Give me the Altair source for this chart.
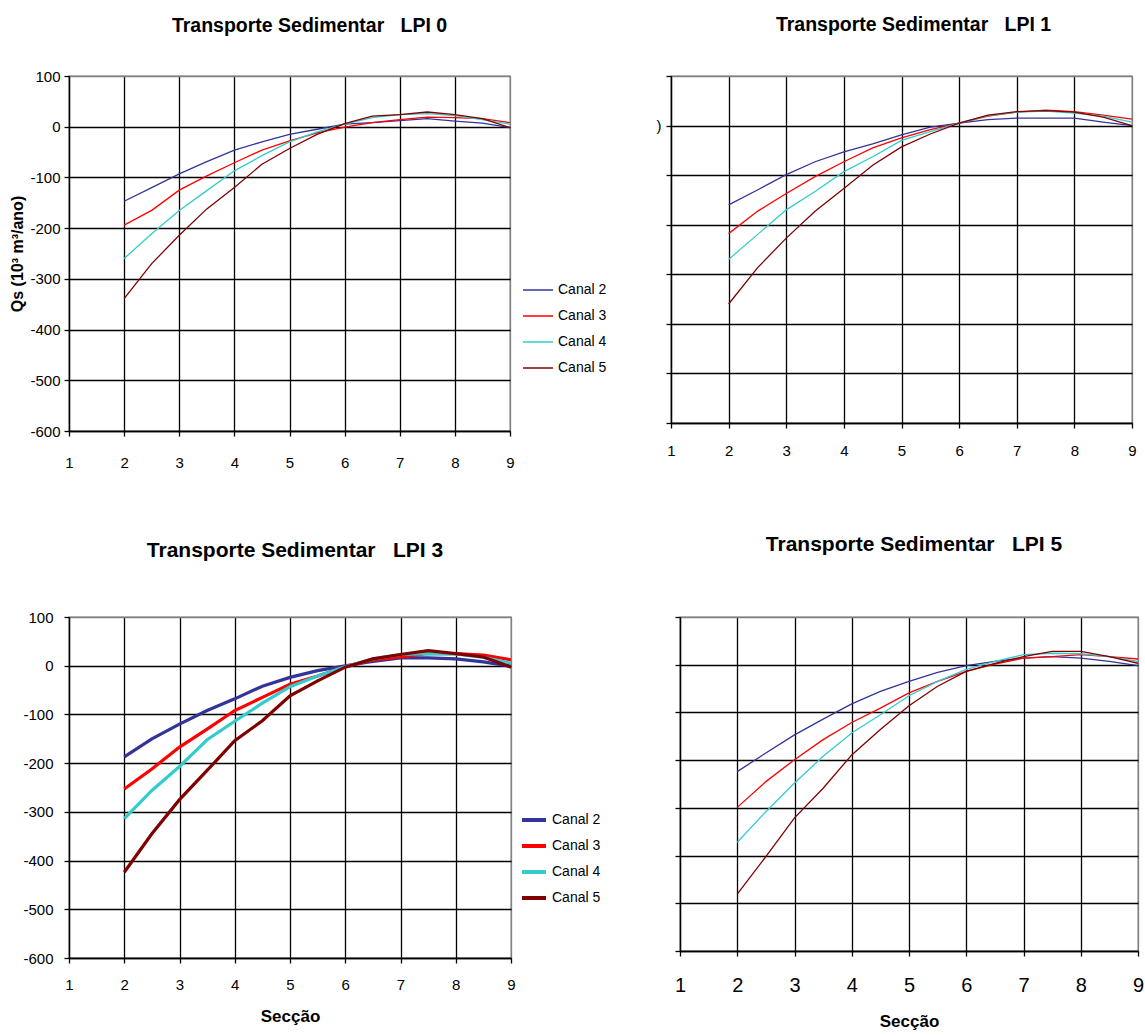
import altair as alt
import pandas as pd

FONT = "Liberation Sans, Arial, sans-serif"
SP3 = "\u00a0\u00a0\u00a0"

SECCAO = [2, 2.5, 3, 3.5, 4, 4.5, 5, 5.5, 6, 6.5, 7, 7.5, 8, 8.5, 9]
CANAIS = ["Canal 2", "Canal 3", "Canal 4", "Canal 5"]
CORES = ["#333399", "#FF0000", "#33CCCC", "#800000"]
X_TICKS = [1, 2, 3, 4, 5, 6, 7, 8, 9]
Y_TICKS = [100, 0, -100, -200, -300, -400, -500, -600]

LPI0_C2 = [-147, -120, -93, -69, -46, -30, -15, -5, 5, 8, 12, 16, 11, 7, -2]
LPI0_C3 = [-194, -165, -125, -97, -71, -46, -28, -12, -1, 8, 14, 19, 18, 16, 8]
LPI0_C4 = [-260, -211, -165, -126, -87, -57, -30, -10, 5, 18, 24, 26, 22, 14, 5]
LPI0_C5 = [-339, -270, -214, -162, -120, -74, -43, -15, 6, 21, 24, 29, 24, 16, -2]

LPI1_C2 = [-160, -130, -99, -73, -53, -37, -19, -3, 5, 12, 15, 15, 15, 7, 0]
LPI1_C3 = [-218, -173, -137, -103, -73, -45, -25, -8, 5, 19, 27, 31, 28, 21, 13]
LPI1_C4 = [-270, -220, -170, -133, -93, -63, -30, -12, 5, 20, 27, 29, 25, 19, 7]
LPI1_C5 = [-360, -287, -227, -173, -127, -80, -43, -17, 5, 21, 28, 30, 27, 17, 0]

LPI3_C2 = [-187, -150, -120, -92, -68, -42, -24, -10, 0, 9, 16, 16, 14, 8, -1]
LPI3_C3 = [-253, -212, -167, -130, -92, -65, -38, -21, -2, 12, 18, 25, 25, 22, 12]
LPI3_C4 = [-314, -256, -207, -152, -114, -77, -43, -21, -2, 14, 23, 25, 24, 17, 5]
LPI3_C5 = [-424, -345, -275, -215, -154, -113, -62, -31, -3, 14, 23, 31, 25, 18, -3]

LPI5_C2 = [-224, -185, -147, -114, -82, -56, -35, -16, -2, 7, 14, 17, 14, 7, -2]
LPI5_C3 = [-299, -245, -199, -157, -121, -91, -59, -35, -14, 1, 14, 17, 21, 17, 12]
LPI5_C4 = [-372, -308, -248, -192, -143, -105, -65, -35, -10, 7, 21, 24, 23, 17, 7]
LPI5_C5 = [-481, -402, -321, -259, -189, -136, -86, -45, -14, 3, 17, 28, 28, 17, 3]


def frame(series):
    rows = []
    for canal, serie in zip(CANAIS, series):
        for s, q in zip(SECCAO, serie):
            rows.append({"sec": s, "qs": q, "canal": canal})
    return pd.DataFrame(rows)


GRID_X = {"condition": {"test": "datum.value === 9", "value": "#808080"}, "value": "black"}
GRID_Y = {"condition": {"test": "datum.value === 100", "value": "#808080"}, "value": "black"}


def panel(series, title, w, h, *, title_size, title_offset, title_dx,
          xlab_size, xlab_pad, xtitle=None, xtitle_pad=0,
          ylab_mode="full", ylab_size=15, ylab_pad=5, ytitle=None, ytitle_pad=5,
          line_w=1.3, legend=None):
    if ylab_mode == "full":
        yexpr = "datum.value + ''"
    elif ylab_mode == "paren":
        yexpr = "datum.value === 0 ? ')' : ''"
    else:
        yexpr = "''"
    xaxis = alt.Axis(
        values=X_TICKS, format="d", grid=True, gridColor=GRID_X, gridWidth=1.3,
        domainColor="black", domainWidth=1.3, tickColor="black", tickSize=5,
        tickWidth=1.3, labelFont=FONT, labelFontSize=xlab_size, labelColor="black",
        labelPadding=xlab_pad, labelFlush=False, labelOverlap=False,
        title=xtitle, titleFont=FONT, titleFontSize=17, titleFontWeight="bold",
        titleColor="black", titlePadding=xtitle_pad,
    )
    yaxis = alt.Axis(
        values=Y_TICKS, grid=True, gridColor=GRID_Y, gridWidth=1.3,
        domainColor="black", domainWidth=1.3, tickColor="black", tickSize=5,
        tickWidth=1.3, labelFont=FONT, labelFontSize=ylab_size, labelColor="black",
        labelPadding=ylab_pad, labelOverlap=False, labelExpr=yexpr,
        title=ytitle, titleFont=FONT, titleFontSize=16, titleFontWeight="bold",
        titleColor="black", titlePadding=ytitle_pad,
    )
    color = alt.Color(
        "canal:N",
        scale=alt.Scale(domain=CANAIS, range=CORES),
        legend=legend,
    )
    return (
        alt.Chart(frame(series))
        .mark_line(strokeWidth=line_w, clip=True)
        .encode(
            x=alt.X("sec:Q", scale=alt.Scale(domain=[1, 9], nice=False, zero=False), axis=xaxis),
            y=alt.Y("qs:Q", scale=alt.Scale(domain=[-600, 100], nice=False, zero=False), axis=yaxis),
            color=color,
            order=alt.Order("sec:Q"),
        )
        .properties(
            width=w,
            height=h,
            title=alt.TitleParams(
                title, font=FONT, fontSize=title_size, fontWeight="bold", color="black",
                anchor="middle", frame="group", offset=title_offset, dx=title_dx,
                baseline="bottom",
            ),
        )
    )


def make_legend(x, y, sym_size, sym_w, row_pad):
    return alt.Legend(
        title=None, orient="none", legendX=x, legendY=y, symbolType="stroke",
        symbolSize=sym_size, symbolStrokeWidth=sym_w, labelFont=FONT,
        labelFontSize=14, labelColor="black", rowPadding=row_pad, padding=0,
        labelOffset=4,
    )


tl = panel(
    [LPI0_C2, LPI0_C3, LPI0_C4, LPI0_C5], "Transporte Sedimentar" + SP3 + "LPI 0", 441, 355,
    title_size=19.5, title_offset=14, title_dx=20, xlab_size=15, xlab_pad=19,
    ylab_mode="full", ylab_pad=4, ytitle="Qs (10³ m³/ano)", ytitle_pad=4, line_w=1.3,
    legend=make_legend(453, 198, 900, 1.5, 3),
)
tr = panel(
    [LPI1_C2, LPI1_C3, LPI1_C4, LPI1_C5], "Transporte Sedimentar" + SP3 + "LPI 1", 461, 347,
    title_size=19.5, title_offset=15, title_dx=12, xlab_size=15, xlab_pad=15,
    ylab_mode="paren", ylab_pad=5, line_w=1.3,
)
bl = panel(
    [LPI3_C2, LPI3_C3, LPI3_C4, LPI3_C5], "Transporte Sedimentar" + SP3 + "LPI 3", 442, 341,
    title_size=21, title_offset=28, title_dx=5, xlab_size=15, xlab_pad=14,
    xtitle="Secção", xtitle_pad=16,
    ylab_mode="full", ylab_pad=11, line_w=3.2,
    legend=make_legend(451, 189, 576, 4, 4),
)
br = panel(
    [LPI5_C2, LPI5_C3, LPI5_C4, LPI5_C5], "Transporte Sedimentar" + SP3 + "LPI 5", 458, 334,
    title_size=21, title_offset=34, title_dx=5, xlab_size=20, xlab_pad=19,
    xtitle="Secção", xtitle_pad=18,
    ylab_mode="none", ylab_pad=5, line_w=1.3,
)

top = alt.hconcat(tl, tr, spacing=161, bounds="flush").resolve_scale(color="independent")
bottom = alt.hconcat(bl, br, spacing=169, bounds="flush").resolve_scale(color="independent")

chart = (
    alt.concat(top, bottom, columns=1, align="none", spacing=62)
    .resolve_scale(color="independent")
    .configure_view(stroke="#808080", strokeWidth=1.3)
    .properties(padding={"left": 9, "top": 13, "right": 0, "bottom": 0}, background="white")
)

chart.save("out.html", embed_options={"renderer": "svg", "actions": False})
